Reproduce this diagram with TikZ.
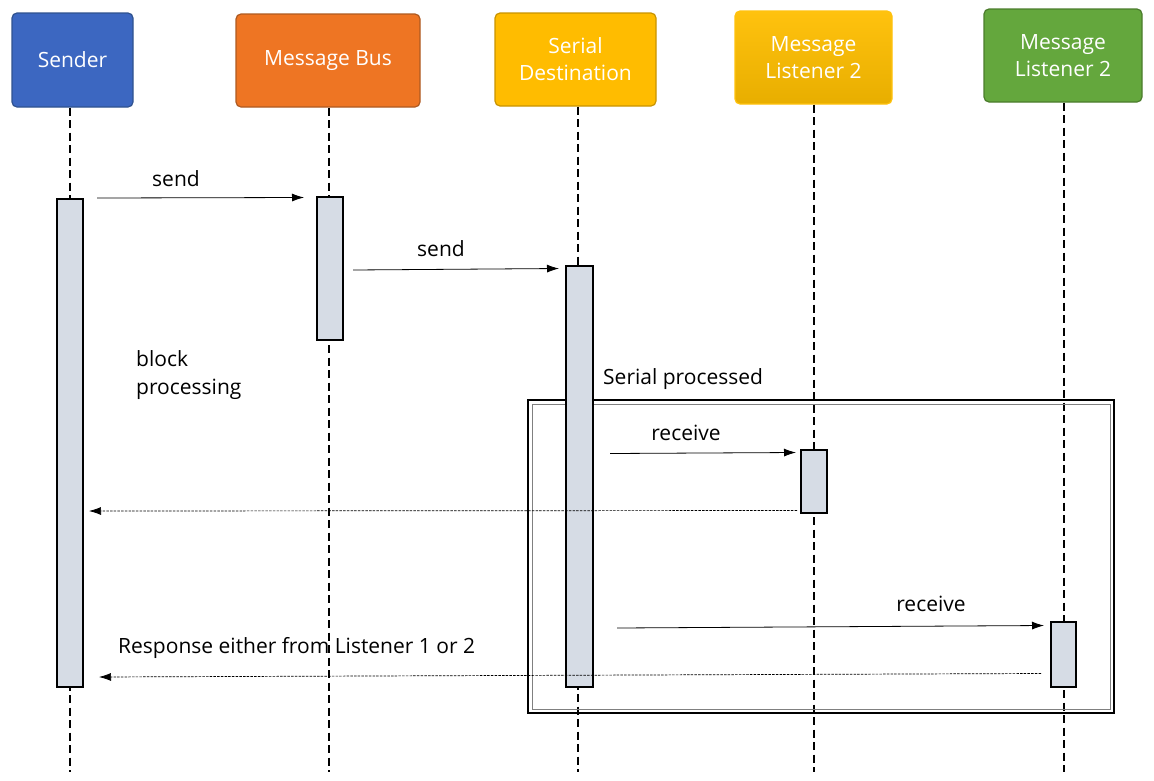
\documentclass[tikz,border=0pt]{standalone}
\usepackage{fontspec}
\setmainfont{Open Sans}
\usetikzlibrary{arrows.meta}
\definecolor{cblue}{HTML}{3C67C1}
\definecolor{cblueb}{HTML}{2F528F}
\definecolor{corange}{HTML}{EE7523}
\definecolor{corangeb}{HTML}{AE5A21}
\definecolor{cgold}{HTML}{FFBC00}
\definecolor{cgoldb}{HTML}{C99400}
\definecolor{cyel}{HTML}{FFC20E}
\definecolor{cyelb}{HTML}{E8AE00}
\definecolor{cgreen}{HTML}{64A73D}
\definecolor{cgreenb}{HTML}{4B7C2C}
\definecolor{cact}{HTML}{D6DCE5}
\tikzset{
  head/.style={draw, line width=1.2pt, rounded corners=5pt, text=white,
    font=\fontsize{21}{27}\selectfont, align=center, inner sep=0pt},
  life/.style={line width=2.4pt, dash pattern=on 8pt off 4.5pt},
  act/.style={draw=black, fill=cact, line width=1.8pt, inner sep=0pt},
  msg/.style={line width=0.8pt, -{Latex[length=12pt,width=8pt]}},
  ret/.style={line width=0.7pt, dash pattern=on 2.5pt off 1.2pt, -{Latex[length=12pt,width=8pt]}},
  lbl/.style={font=\fontsize{21}{26}\selectfont, inner sep=0pt}
}
\begin{document}
\begin{tikzpicture}[x=1pt,y=-1pt]
\useasboundingbox (0,0) rectangle (1154,780);
% header nodes
\node[head, fill=cblue, draw=cblueb, minimum width=121pt, minimum height=94pt] (sender) at (72.5,60) {Sender};
\node[head, fill=corange, draw=corangeb, minimum width=184pt, minimum height=93pt] (bus) at (328,60.5) {Message Bus};
\node[head, fill=cgold, draw=cgoldb, minimum width=161pt, minimum height=93pt] (serial) at (575.5,59.5) {Serial\\Destination};
\node[head, top color=cyel, bottom color=cyelb, draw=cyel, minimum width=157pt, minimum height=93pt] (lis1) at (813.5,57.5) {Message\\Listener 2};
\node[head, fill=cgreen, draw=cgreenb, minimum width=158pt, minimum height=93pt] (lis2) at (1063,55.5) {Message\\Listener 2};
% lifeline ends
\coordinate (e1) at (70,772);
\coordinate (e2) at (329,772);
\coordinate (e3) at (578,772);
\coordinate (e4) at (814,772);
\coordinate (e5) at (1064,772);
\draw[life] (sender.south -| e1) -- (e1);
\draw[life] (bus.south -| e2) -- (e2);
\draw[life] (serial.south -| e3) -- (e3);
\draw[life] (lis1.south -| e4) -- (e4);
\draw[life] (lis2.south -| e5) -- (e5);
% frame
\draw[line width=1.4pt] (528,400) rectangle (1114,713);
\draw[line width=0.9pt, gray] (532,404) rectangle (1110,709);
% activations
\node[act, minimum width=26pt, minimum height=488pt] (a1) at (70,443) {};
\node[act, minimum width=26pt, minimum height=143pt] (a2) at (330,268.5) {};
\node[act, minimum width=27pt, minimum height=421pt] (a3) at (579.5,476.5) {};
\node[act, minimum width=26pt, minimum height=63pt] (a4) at (814,481.5) {};
\node[act, minimum width=25pt, minimum height=65pt] (a5) at (1063.5,654.5) {};
% arrow end points
\coordinate (s1) at (97,198); \coordinate (t1) at (304,197.5);
\coordinate (s2) at (353,270); \coordinate (t2) at (559,268.5);
\coordinate (s3) at (610,453.5); \coordinate (t3) at (796,452.5);
\coordinate (s4) at (797,510.5); \coordinate (t4) at (89,511);
\coordinate (s5) at (617,628); \coordinate (t5) at (1044,625.5);
\coordinate (s6) at (1041,673.5); \coordinate (t6) at (99,677);
\draw[msg] (s1) -- (t1);
\draw[msg] (s2) -- (t2);
\draw[msg] (s3) -- (t3);
\draw[ret] (s4) -- (t4);
\draw[msg] (s5) -- (t5);
\draw[ret] (s6) -- (t6);
% labels
\node[lbl, anchor=base] (l1) at (176,186) {send};
\node[lbl, anchor=base] (l2) at (441,256) {send};
\node[lbl, anchor=base] (l3) at (686,440) {receive};
\node[lbl, anchor=base] (l5) at (931,611) {receive};
\node[lbl, anchor=base west] (l6) at (118,653) {Response either from Listener 1 or 2};
\node[lbl, anchor=base west] (l7) at (136,366) {block};
\node[lbl, anchor=base west] (l8) at (136,394) {processing};
\node[lbl, anchor=base west] (l9) at (603,384) {Serial processed};
\end{tikzpicture}
\end{document}
